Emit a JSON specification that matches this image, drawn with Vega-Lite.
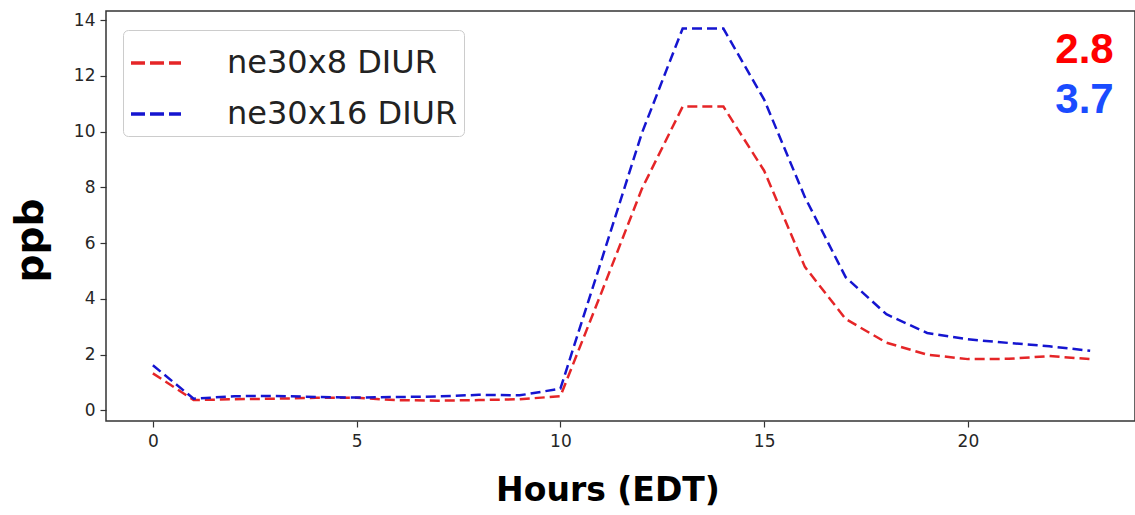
{
  "$schema": "https://vega.github.io/schema/vega-lite/v6.json",
  "width": 1029,
  "height": 410,
  "autosize": {"type": "none"},
  "padding": {"left": 106, "top": 11, "right": 0, "bottom": 94},
  "background": "white",
  "datasets": {
    "series": [
      {"hour": 0, "ppb": 1.33, "run": "ne30x8 DIUR"},
      {"hour": 1, "ppb": 0.37, "run": "ne30x8 DIUR"},
      {"hour": 2, "ppb": 0.40, "run": "ne30x8 DIUR"},
      {"hour": 3, "ppb": 0.42, "run": "ne30x8 DIUR"},
      {"hour": 4, "ppb": 0.45, "run": "ne30x8 DIUR"},
      {"hour": 5, "ppb": 0.45, "run": "ne30x8 DIUR"},
      {"hour": 6, "ppb": 0.37, "run": "ne30x8 DIUR"},
      {"hour": 7, "ppb": 0.35, "run": "ne30x8 DIUR"},
      {"hour": 8, "ppb": 0.37, "run": "ne30x8 DIUR"},
      {"hour": 9, "ppb": 0.40, "run": "ne30x8 DIUR"},
      {"hour": 10, "ppb": 0.51, "run": "ne30x8 DIUR"},
      {"hour": 11, "ppb": 4.20, "run": "ne30x8 DIUR"},
      {"hour": 12, "ppb": 7.95, "run": "ne30x8 DIUR"},
      {"hour": 13, "ppb": 10.90, "run": "ne30x8 DIUR"},
      {"hour": 14, "ppb": 10.90, "run": "ne30x8 DIUR"},
      {"hour": 15, "ppb": 8.60, "run": "ne30x8 DIUR"},
      {"hour": 16, "ppb": 5.15, "run": "ne30x8 DIUR"},
      {"hour": 17, "ppb": 3.28, "run": "ne30x8 DIUR"},
      {"hour": 18, "ppb": 2.43, "run": "ne30x8 DIUR"},
      {"hour": 19, "ppb": 2.00, "run": "ne30x8 DIUR"},
      {"hour": 20, "ppb": 1.84, "run": "ne30x8 DIUR"},
      {"hour": 21, "ppb": 1.85, "run": "ne30x8 DIUR"},
      {"hour": 22, "ppb": 1.95, "run": "ne30x8 DIUR"},
      {"hour": 23, "ppb": 1.84, "run": "ne30x8 DIUR"},
      {"hour": 0, "ppb": 1.62, "run": "ne30x16 DIUR"},
      {"hour": 1, "ppb": 0.42, "run": "ne30x16 DIUR"},
      {"hour": 2, "ppb": 0.51, "run": "ne30x16 DIUR"},
      {"hour": 3, "ppb": 0.52, "run": "ne30x16 DIUR"},
      {"hour": 4, "ppb": 0.48, "run": "ne30x16 DIUR"},
      {"hour": 5, "ppb": 0.46, "run": "ne30x16 DIUR"},
      {"hour": 6, "ppb": 0.48, "run": "ne30x16 DIUR"},
      {"hour": 7, "ppb": 0.50, "run": "ne30x16 DIUR"},
      {"hour": 8, "ppb": 0.56, "run": "ne30x16 DIUR"},
      {"hour": 9, "ppb": 0.54, "run": "ne30x16 DIUR"},
      {"hour": 10, "ppb": 0.78, "run": "ne30x16 DIUR"},
      {"hour": 11, "ppb": 5.35, "run": "ne30x16 DIUR"},
      {"hour": 12, "ppb": 9.95, "run": "ne30x16 DIUR"},
      {"hour": 13, "ppb": 13.70, "run": "ne30x16 DIUR"},
      {"hour": 14, "ppb": 13.70, "run": "ne30x16 DIUR"},
      {"hour": 15, "ppb": 11.15, "run": "ne30x16 DIUR"},
      {"hour": 16, "ppb": 7.65, "run": "ne30x16 DIUR"},
      {"hour": 17, "ppb": 4.78, "run": "ne30x16 DIUR"},
      {"hour": 18, "ppb": 3.45, "run": "ne30x16 DIUR"},
      {"hour": 19, "ppb": 2.78, "run": "ne30x16 DIUR"},
      {"hour": 20, "ppb": 2.55, "run": "ne30x16 DIUR"},
      {"hour": 21, "ppb": 2.42, "run": "ne30x16 DIUR"},
      {"hour": 22, "ppb": 2.30, "run": "ne30x16 DIUR"},
      {"hour": 23, "ppb": 2.14, "run": "ne30x16 DIUR"}
    ],
    "notes": [
      {"run": "ne30x8 DIUR", "label": "2.8"},
      {"run": "ne30x16 DIUR", "label": "3.7"}
    ]
  },
  "layer": [
    {
      "data": {"name": "series"},
      "mark": {"type": "line", "strokeWidth": 2.5, "strokeDash": [10, 5], "clip": true},
      "encoding": {
        "x": {
          "field": "hour", "type": "quantitative",
          "scale": {"domain": [-1.15, 24.1], "nice": false, "zero": false},
          "axis": {
            "values": [0, 5, 10, 15, 20],
            "title": "Hours (EDT)",
            "titleFont": "DejaVu Sans", "titleFontWeight": "bold", "titleFontSize": 33, "titleColor": "#000",
            "titleX": 501.5, "titleY": 79, "titleAlign": "center", "titleBaseline": "alphabetic", "titleAnchor": null,
            "labelPadding": 6
          }
        },
        "y": {
          "field": "ppb", "type": "quantitative",
          "scale": {"domain": [-0.38, 14.33], "nice": false, "zero": false},
          "axis": {
            "values": [0, 2, 4, 6, 8, 10, 12, 14],
            "title": "ppb",
            "titleFont": "DejaVu Sans", "titleFontWeight": "bold", "titleFontSize": 39, "titleColor": "#000",
            "titleX": -63.5, "titleY": 229, "titleAngle": -90, "titleAlign": "center", "titleBaseline": "alphabetic", "titleAnchor": null,
            "labelPadding": 5
          }
        },
        "color": {
          "field": "run", "type": "nominal",
          "scale": {"domain": ["ne30x8 DIUR", "ne30x16 DIUR"], "range": ["#e52527", "#1515d0"]},
          "legend": {
            "title": null,
            "orient": "none", "legendX": 17, "legendY": 19,
            "symbolType": "stroke", "symbolStrokeWidth": 3.5, "symbolDash": [14, 5], "symbolSize": 2500,
            "labelFont": "DejaVu Sans", "labelFontSize": 32, "labelColor": "#222", "labelOffset": 44, "labelLimit": 500,
            "padding": 6, "rowPadding": 8,
            "strokeColor": "#cccccc", "fillColor": "white", "cornerRadius": 5
          }
        }
      }
    },
    {
      "data": {"name": "notes"},
      "transform": [{"filter": "datum.run === 'ne30x8 DIUR'"}],
      "mark": {"type": "text", "font": "Liberation Sans", "fontWeight": "bold", "fontSize": 42, "color": "#ff0000", "align": "center", "baseline": "alphabetic"},
      "encoding": {
        "x": {"datum": 22.86, "type": "quantitative"},
        "y": {"datum": 12.46, "type": "quantitative"},
        "text": {"field": "label"}
      }
    },
    {
      "data": {"name": "notes"},
      "transform": [{"filter": "datum.run === 'ne30x16 DIUR'"}],
      "mark": {"type": "text", "font": "Liberation Sans", "fontWeight": "bold", "fontSize": 42, "color": "#1a4cff", "align": "center", "baseline": "alphabetic"},
      "encoding": {
        "x": {"datum": 22.86, "type": "quantitative"},
        "y": {"datum": 10.67, "type": "quantitative"},
        "text": {"field": "label"}
      }
    }
  ],
  "config": {
    "view": {"stroke": "#333333", "strokeWidth": 1.5},
    "axis": {
      "grid": false,
      "domain": false,
      "tickColor": "#333333", "tickSize": 6, "tickWidth": 1.2,
      "labelFont": "DejaVu Sans", "labelFontSize": 17, "labelColor": "#262626"
    }
  }
}
